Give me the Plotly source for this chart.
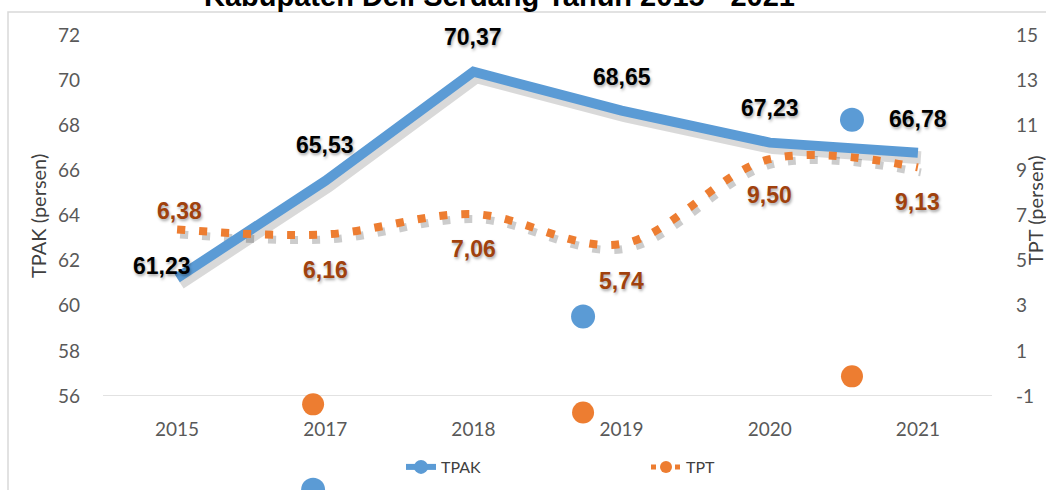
import plotly.graph_objects as go

# ---- data ----
years = ["2015", "2017", "2018", "2019", "2020", "2021"]
tpak = [61.23, 65.53, 70.37, 68.65, 67.23, 66.78]
tpt = [6.38, 6.16, 7.06, 5.74, 9.50, 9.13]
left_ticks = [56, 58, 60, 62, 64, 66, 68, 70, 72]
right_ticks = [-1, 1, 3, 5, 7, 9, 11, 13, 15]
right_tick_text = ["-1", "1", "3", "5", "7", "9", "11", "13", "15"]
title_text = "Kabupaten Deli Serdang Tahun 2015 - 2021"
left_title = "TPAK (persen)"
right_title = "TPT (persen)"

# stray marker artefacts visible in the reference picture (category index, value)
stray_tpak_x = [4.555, 2.74, 0.918]
stray_tpak_y = [68.24, 59.52, 51.85]
stray_tpt_x = [0.918, 2.74, 4.555]
stray_tpt_y = [-1.37, -1.73, -0.13]

# label offsets (px) : style only
tpak_shift = [(-15, 12), (0, 36), (0, 35), (0, 34), (0, 35), (0, 34)]
tpt_shift = [(2, 18), (0, -36), (0, -35), (0, -37), (0, -36), (0, -35)]

idx = list(range(len(years)))

BLUE = "#5B9BD5"
ORANGE = "#ED7D31"
LABEL_ORANGE = "#A0410D"
LABEL_FONT = "Liberation Sans Narrow, Arial Narrow, Liberation Sans, Arial, sans-serif"
TICK_FONT = "Lato, Open Sans, sans-serif"

# ---- geometry (pixels) ----
W, H = 1046, 490
ml, mt, mr, mb = 103, 35, 51, 0
tw, th = W - ml - mr, H - mt - mb          # whole drawing area
px_left, px_right = 103, 992               # main plot area
px_top, px_bottom = 35, 396
sx, sy = 3, 5                              # shadow offset


def fx(px):
    return (px - ml) / tw


def fy(py):
    return (H - mb - py) / th


main_xd = [fx(px_left), fx(px_right)]
main_yd = [fy(px_bottom), fy(px_top)]
shad_xd = [fx(px_left + sx), fx(px_right + sx)]
shad_yd = [fy(px_bottom + sy), fy(px_top + sy)]
units_per_px_l = (72 - 56) / (px_bottom - px_top)
units_per_px_r = (15 - (-1)) / (px_bottom - px_top)
stray_yd = [0, 1]
stray_range_l = [72 - (H - mb - px_top) * units_per_px_l, 72]
stray_range_r = [15 - (H - mb - px_top) * units_per_px_r, 15]

fig = go.Figure()

# shadows (lower subplot x/y, offset down-right)
fig.add_trace(go.Scatter(x=idx, y=tpak, xaxis="x", yaxis="y", mode="lines",
                         line=dict(color="rgba(0,0,0,0.15)", width=13),
                         hoverinfo="skip", showlegend=False))
fig.add_trace(go.Scatter(x=idx, y=tpt, xaxis="x", yaxis="y2", mode="lines",
                         line=dict(color="rgba(0,0,0,0.2)", width=8, dash="8px,14px",
                                   shape="spline", smoothing=1),
                         hoverinfo="skip", showlegend=False))

# main lines (x3/y3/y4)
fig.add_trace(go.Scatter(x=idx, y=tpak, xaxis="x3", yaxis="y3", mode="lines", name="TPAK",
                         line=dict(color=BLUE, width=10), showlegend=False))
fig.add_trace(go.Scatter(x=idx, y=tpt, xaxis="x3", yaxis="y4", mode="lines", name="TPT",
                         line=dict(color=ORANGE, width=8, dash="8px,14px",
                                   shape="spline", smoothing=1),
                         showlegend=False))

# stray markers (x5/y5/y6 spanning full height)
fig.add_trace(go.Scatter(x=stray_tpak_x, y=stray_tpak_y, xaxis="x5", yaxis="y5",
                         mode="markers", marker=dict(color=BLUE, size=24),
                         hoverinfo="skip", showlegend=False))
fig.add_trace(go.Scatter(x=stray_tpt_x, y=stray_tpt_y, xaxis="x5", yaxis="y6",
                         mode="markers", marker=dict(color=ORANGE, size=22),
                         hoverinfo="skip", showlegend=False))

# legend-only entries
fig.add_trace(go.Scatter(x=[None], y=[None], xaxis="x3", yaxis="y3", mode="lines+markers",
                         name="TPAK", line=dict(color=BLUE, width=6),
                         marker=dict(color=BLUE, size=14)))
fig.add_trace(go.Scatter(x=[None], y=[None], xaxis="x3", yaxis="y4", mode="lines+markers",
                         name="TPT", line=dict(color=ORANGE, width=5, dash="5px,7px"),
                         marker=dict(color=ORANGE, size=12, symbol="circle")))

# data labels
shadow = "1px 2px 3px rgba(0,0,0,0.35)"
for i, v in enumerate(tpak):
    fig.add_annotation(x=idx[i], y=v, xref="x3", yref="y3",
                       text=f"{v:.2f}".replace(".", ","), showarrow=False,
                       xshift=tpak_shift[i][0], yshift=tpak_shift[i][1],
                       font=dict(family=LABEL_FONT, size=23, color="#000000",
                                 weight="bold", shadow=shadow))
for i, v in enumerate(tpt):
    fig.add_annotation(x=idx[i], y=v, xref="x3", yref="y4",
                       text=f"{v:.2f}".replace(".", ","), showarrow=False,
                       xshift=tpt_shift[i][0], yshift=tpt_shift[i][1],
                       font=dict(family=LABEL_FONT, size=23, color=LABEL_ORANGE,
                                 weight="bold", shadow=shadow))

# cut-off chart title
fig.add_annotation(x=fx(499), y=fy(14), xref="paper", yref="paper",
                   xanchor="center", yanchor="bottom", showarrow=False,
                   text=title_text,
                   font=dict(family=LABEL_FONT, size=29, color="#000000", weight="bold"))

title_font = dict(family=TICK_FONT, size=20, color="#404040")
fig.add_annotation(x=fx(38), y=fy(216), xref="paper", yref="paper", textangle=-90,
                   xanchor="center", yanchor="middle", showarrow=False,
                   text=left_title, font=title_font)
fig.add_annotation(x=fx(1035), y=fy(210), xref="paper", yref="paper", textangle=-90,
                   xanchor="center", yanchor="middle", showarrow=False,
                   text=right_title, font=title_font)

# outer chart border
fig.add_shape(type="rect", xref="paper", yref="paper",
              x0=fx(8), x1=fx(W + 20), y0=fy(H + 20), y1=fy(12),
              line=dict(color="#D9D9D9", width=1.5), fillcolor="rgba(0,0,0,0)", layer="below")

tick_font = dict(family=TICK_FONT, size=19, color="#595959")
hidden = dict(visible=False, automargin=False)

fig.update_layout(
    width=W, height=H,
    margin=dict(l=ml, r=mr, t=mt, b=mb, pad=0, autoexpand=False),
    paper_bgcolor="white", plot_bgcolor="rgba(0,0,0,0)",
    xaxis=dict(domain=shad_xd, range=[-0.5, 5.5], anchor="y", **hidden),
    yaxis=dict(domain=shad_yd, range=[56, 72], anchor="x", **hidden),
    yaxis2=dict(domain=shad_yd, range=[-1, 15], anchor="x", overlaying="y", **hidden),
    xaxis3=dict(domain=main_xd, range=[-0.5, 5.5], tickvals=idx, ticktext=years,
                anchor="y3", showgrid=False, zeroline=False, showline=False,
                automargin=False, ticks="", tickfont=tick_font, ticklabelstandoff=20),
    yaxis3=dict(domain=main_yd, range=[56, 72], tickvals=left_ticks, anchor="x3",
                showgrid=False, zeroline=False, showline=False, ticks="",
                automargin=False, tickfont=tick_font, ticklabelstandoff=22),
    yaxis4=dict(domain=main_yd, range=[-1, 15], tickvals=right_ticks,
                ticktext=right_tick_text, overlaying="y3", anchor="x3",
                side="right", showgrid=False, zeroline=False, showline=False, ticks="",
                automargin=False, tickfont=tick_font, ticklabelstandoff=23),
    xaxis5=dict(domain=main_xd, range=[-0.5, 5.5], anchor="y5", **hidden),
    yaxis5=dict(domain=stray_yd, range=stray_range_l, anchor="x5", **hidden),
    yaxis6=dict(domain=stray_yd, range=stray_range_r, anchor="x5", overlaying="y5", **hidden),
    legend=dict(orientation="h", x=fx(401), xanchor="left",
                y=fy(467), yanchor="middle",
                entrywidth=200, font=dict(family=TICK_FONT, size=16, color="#404040"),
                bgcolor="rgba(0,0,0,0)"),
    showlegend=True,
)

# bottom axis line at value 56
fig.add_shape(type="line", xref="x3", yref="y3", x0=-0.5, x1=5.5, y0=56, y1=56,
              line=dict(color="#D9D9D9", width=1.5), layer="below")

fig.write_html("out.html", config={"displayModeBar": False},
               post_script="document.body.style.margin='0px';document.body.style.overflow='hidden';")
